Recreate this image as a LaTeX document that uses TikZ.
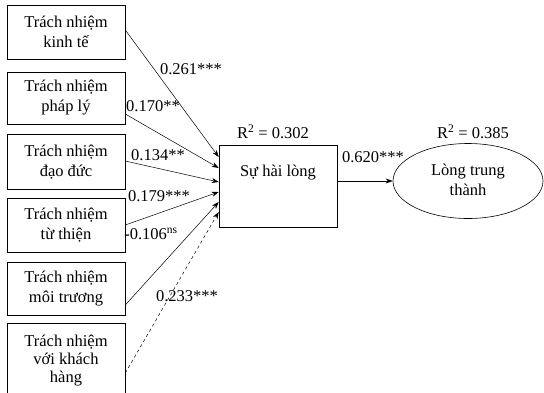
\documentclass[tikz,border=0pt]{standalone}
\usepackage{fontspec}
\setmainfont{Liberation Serif}
\usetikzlibrary{arrows.meta,shapes.geometric}

\tikzset{
  txt/.style={font=\fontsize{16.5}{19.5}\selectfont, inner sep=0pt},
  factor/.style={draw, line width=0.6pt, minimum width=118pt, align=center,
    font=\fontsize{16.5}{20}\selectfont, inner sep=0pt},
  path/.style={draw, line width=0.5pt, -{Stealth[length=7pt,width=5pt]}},
  coef/.style={txt, anchor=center},
}

\begin{document}
\begin{tikzpicture}[x=1pt,y=-1pt]
  \useasboundingbox (0,0) rectangle (544,392);
  \fill[white] (0,0) rectangle (544,392);

  % Six CSR dimensions
  \node[factor, minimum height=54pt] (kt) at (66,32)  {Trách nhiệm\\kinh tế};
  \node[factor, minimum height=52pt] (pl) at (66,98)  {Trách nhiệm\\pháp lý};
  \node[factor, minimum height=55pt] (dd) at (66,162) {Trách nhiệm\\đạo đức};
  \node[factor, minimum height=54pt] (tt) at (66,225) {Trách nhiệm\\từ thiện};
  \node[factor, minimum height=53pt] (mt) at (66,289) {Trách nhiệm\\môi trương};
  \node[factor, minimum height=76pt, font=\fontsize{16.5}{18}\selectfont] (kh) at (66,361)
    {Trách nhiệm\\với khách\\hàng};

  % Satisfaction and loyalty
  \node[draw, line width=0.6pt, minimum width=118pt, minimum height=82pt] (hl) at (278,186) {};
  \node[txt] (hlt) at (278,173) {Sự hài lòng};
  \node[draw, ellipse, line width=0.6pt, minimum width=150pt, minimum height=75pt,
    inner sep=0pt] (lt) at (468,181) {};
  \node[txt, align=center, font=\fontsize{16.5}{20}\selectfont] (ltt) at (468,180)
    {Lòng trung\\thành};

  \node[txt] (r1) at (273,132) {R\textsuperscript{2} = 0.302};
  \node[txt] (r2) at (473,132) {R\textsuperscript{2} = 0.385};

  % Structural paths
  \draw[path] ([yshift=2pt]kt.east)   -- ([yshift=29pt]hl.west);
  \draw[path] ([yshift=-16pt]pl.east) -- ([yshift=18pt]hl.west);
  \draw[path] ([yshift=1pt]dd.east)   -- ([yshift=4pt]hl.west);
  \draw[path] (tt.east)               -- ([yshift=-6pt]hl.west);
  \draw[path] ([yshift=-16pt]mt.east) -- ([yshift=-16pt]hl.west);
  \draw[path, dashed] ([yshift=-12pt]kh.east) -- ([yshift=-26pt]hl.west);
  \draw[path] ([yshift=5pt]hl.east)  -- (lt.west);

  % Path coefficients
  \node[coef] (c1) at (191,69)  {0.261***};
  \node[coef] (c2) at (153,106) {0.170**};
  \node[coef] (c3) at (158,155) {0.134**};
  \node[coef] (c4) at (159,196) {0.179***};
  \node[coef] (c5) at (151,234) {-0.106\textsuperscript{ns}};
  \node[coef] (c6) at (187,296) {0.233***};
  \node[coef] (c7) at (373,157) {0.620***};
\end{tikzpicture}
\end{document}
